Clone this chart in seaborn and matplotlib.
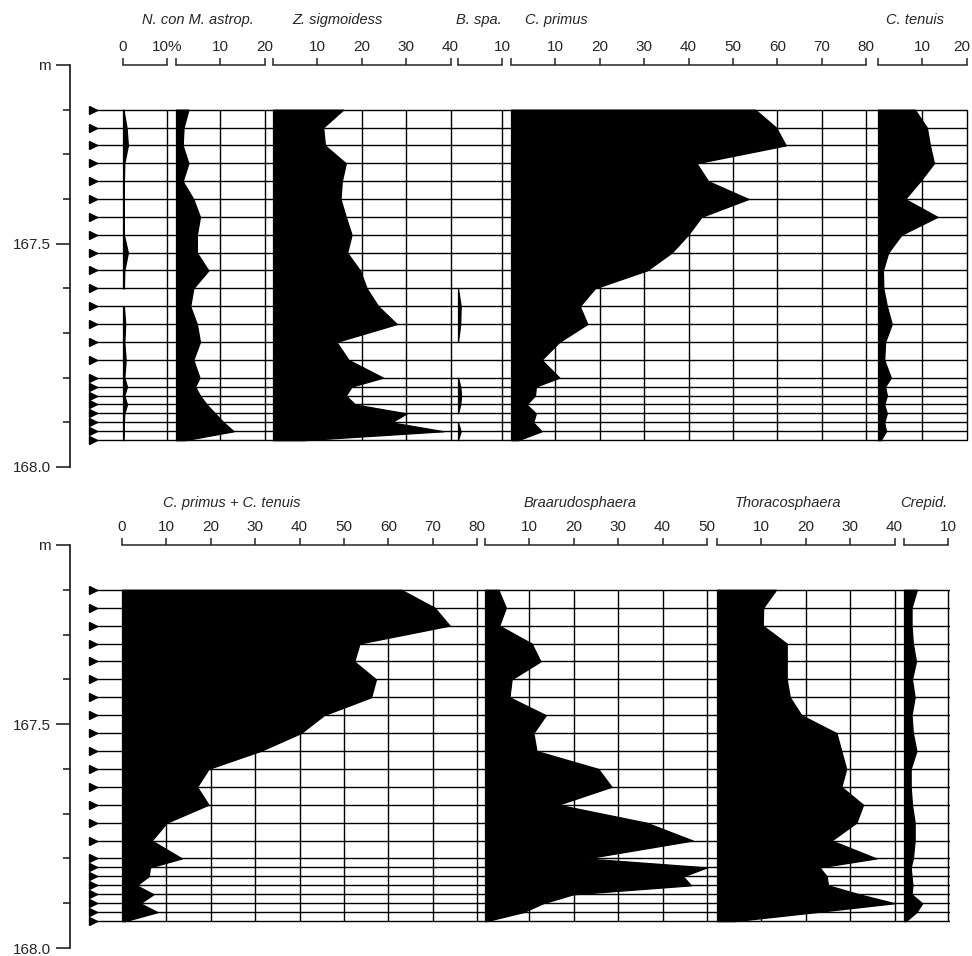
import numpy as np
import matplotlib
matplotlib.use("Agg")
import matplotlib.pyplot as plt
import matplotlib.transforms as mtransforms
import seaborn as sns

# ---------------- data ----------------
DEPTHS = [167.20, 167.24, 167.28, 167.32, 167.36, 167.40, 167.44, 167.48, 167.52, 167.56,
          167.60, 167.64, 167.68, 167.72, 167.76, 167.80, 167.82, 167.84, 167.86, 167.88,
          167.90, 167.92, 167.94]
NAN = np.nan

N_CON = [0.1, 0.8, 1.1, 0.3, 0.2, 0.2, 0.2, 0.2, 1.1, 0.3, 0.2,
         0.2, 0.5, 0.3, 0.6, 0.3, 0.9, 0.3, 0.9, 0.3, 0.2, 0.2, 0.1]
N_CON_BREAKS = [11]
M_ASTROP = [2.8, 1.7, 1.5, 2.8, 1.5, 3.9, 5.4, 4.7, 4.7, 7.3, 3.9, 3.2,
            4.7, 5.4, 3.9, 5.3, 4.3, 5.4, 6.9, 8.8, 10.7, 13.0, 2.0]
Z_SIGMOIDESS = [15.8, 11.3, 11.7, 16.4, 15.5, 15.2, 16.4, 17.7, 16.7, 19.6, 21.1, 23.7,
                27.9, 14.3, 17.0, 24.8, 17.7, 16.4, 18.5, 30.1, 26.7, 38.4, 6.8]
B_SPA = [NAN, NAN, NAN, NAN, NAN, NAN, NAN, NAN, NAN, NAN, 0.0, 0.6,
         0.5, 0.0, NAN, 0.0, 0.5, 0.7, 0.5, 0.0, 0.0, 0.6, 0.0]
B_SPA_BREAKS = [20]
C_PRIMUS = [55.0, 59.7, 61.9, 41.8, 44.4, 53.5, 42.9, 39.9, 36.2, 30.6, 18.9, 15.5,
            17.2, 10.9, 6.9, 10.9, 5.6, 5.4, 3.5, 5.6, 5.0, 6.9, 1.6]
C_TENUIS = [8.3, 11.0, 11.7, 12.6, 9.5, 6.1, 13.4, 5.3, 2.3, 1.1, 1.2, 2.0,
            3.1, 1.6, 1.4, 2.9, 1.6, 2.0, 1.4, 2.0, 1.4, 1.8, 0.6]

C_PRIMUS_TENUIS = [62.9, 70.4, 73.8, 53.5, 52.3, 57.2, 56.1, 45.5, 40.3, 31.2, 19.5, 16.9,
                   19.5, 10.1, 6.7, 13.5, 6.3, 6.0, 3.3, 7.1, 4.1, 8.0, 0.7]
BRAARUDOSPHAERA = [3.0, 4.7, 3.2, 10.5, 12.5, 6.0, 5.5, 13.7, 10.9, 11.6, 25.5, 28.5,
                   16.5, 36.3, 46.8, 22.8, 50.0, 44.6, 46.4, 19.9, 13.1, 8.6, 0.3]
THORACOSPHAERA = [13.3, 10.4, 10.3, 15.7, 15.7, 15.7, 16.4, 19.0, 26.9, 28.0, 29.1, 28.0,
                  32.9, 31.4, 25.8, 35.9, 23.1, 24.7, 25.0, 32.0, 40.0, 22.2, 4.0]
CREPID = [2.9, 1.7, 1.7, 2.0, 2.7, 1.8, 2.4, 1.7, 2.0, 2.8, 1.5, 1.5,
          1.8, 2.4, 2.4, 2.0, 1.5, 1.7, 1.9, 1.7, 4.1, 2.8, 0.4]

DEPTH_TICKS = [167.1, 167.5, 168.0]
DEPTH_LABELS = ["m", "167.5", "168.0"]
DEPTH_MINOR = [167.2, 167.3, 167.4, 167.6, 167.7, 167.8, 167.9]

# ---------------- layout ----------------
W, H = 972, 956
S = 4.44            # pixels per percent
AXIS_X = 70
ARROW_X = 93

sns.set_theme(style="white")
plt.rcParams["font.family"] = ["Liberation Sans", "DejaVu Sans"]
plt.rcParams["axes.linewidth"] = 1.1

fig = plt.figure(figsize=(W / 100, H / 100), dpi=100)
fig.patch.set_facecolor("white")


def runs(vals, breaks):
    out, cur = [], []
    for i, v in enumerate(vals):
        if np.isnan(v) or i in breaks:
            if cur:
                out.append(cur)
            cur = []
        if not np.isnan(v):
            cur.append(i)
    if cur:
        out.append(cur)
    return out


def row_axes(ytop, ybot, xright):
    ax = fig.add_axes([AXIS_X / W, 1 - ybot / H, (xright - AXIS_X) / W, (ybot - ytop) / H])
    ax.patch.set_alpha(0)
    ax.set_xlim(AXIS_X, xright)
    ax.set_ylim(168.0, 167.1)
    ax.hlines(DEPTHS, ARROW_X + 3, xright, color="black", lw=1.0, zorder=1)
    ax.plot([ARROW_X] * len(DEPTHS), DEPTHS, ls="none", marker=">", ms=6,
            color="black", clip_on=False)
    for s in ["top", "right", "bottom"]:
        ax.spines[s].set_visible(False)
    ax.spines["left"].set_bounds(167.1, 168.0)
    ax.spines["left"].set_linewidth(1.3)
    ax.set_xticks([])
    ax.set_yticks(DEPTH_TICKS)
    ax.set_yticklabels(DEPTH_LABELS)
    ax.set_yticks(DEPTH_MINOR, minor=True)
    ax.tick_params(axis="y", which="major", direction="out", length=10, width=1.2,
                   labelsize=11, pad=4, left=True)
    ax.tick_params(axis="y", which="minor", direction="out", length=5, width=1.2, left=True)
    return ax


def column(ytop, ybot, x0, vmax, vals, labels, breaks=()):
    ax = fig.add_axes([x0 / W, 1 - ybot / H, vmax * S / W, (ybot - ytop) / H])
    ax.patch.set_alpha(0)
    ax.set_xlim(0, vmax)
    ax.set_ylim(168.0, 167.1)
    grid = np.arange(10, vmax + 1, 10)
    ax.vlines(grid, DEPTHS[0], DEPTHS[-1], color="black", lw=1.0, zorder=1, clip_on=False)
    d = np.array(DEPTHS)
    v = np.array(vals, dtype=float)
    for r in runs(vals, breaks):
        ax.fill_betweenx(d[r], 0, v[r], facecolor="black", edgecolor="black",
                         lw=0.9, zorder=2, clip_on=False)
    for s in ["left", "right", "bottom"]:
        ax.spines[s].set_visible(False)
    ax.spines["top"].set_bounds(0, vmax)
    ax.spines["top"].set_linewidth(1.1)
    ax.xaxis.tick_top()
    ax.set_xticks(np.arange(0, vmax + 1, 10))
    ax.set_xticklabels(labels)
    ax.set_yticks([])
    ax.tick_params(axis="x", direction="out", length=5, width=1.1, pad=3,
                   labelsize=11, top=True, bottom=False)
    return ax


# ---- top row ----
T_TOP, T_BOT = 65, 467
row_axes(T_TOP, T_BOT, 968)
column(T_TOP, T_BOT, 123, 10, N_CON, ["0", "10%"], N_CON_BREAKS)
column(T_TOP, T_BOT, 176, 20, M_ASTROP, ["", "10", "20"])
column(T_TOP, T_BOT, 273, 40, Z_SIGMOIDESS, ["", "10", "20", "30", "40"])
column(T_TOP, T_BOT, 458, 10, B_SPA, ["", "10"], B_SPA_BREAKS)
column(T_TOP, T_BOT, 511, 80, C_PRIMUS, [""] + [str(v) for v in range(10, 81, 10)])
ax_ct = column(T_TOP, T_BOT, 878, 20, C_TENUIS, ["", "10", "20"])
# keep the last label inside the picture
last = ax_ct.get_xticklabels()[-1]
last.set_transform(last.get_transform() +
                   mtransforms.ScaledTranslation(-5 / 100, 0, fig.dpi_scale_trans))

# ---- bottom row ----
B_TOP, B_BOT = 545, 948
row_axes(B_TOP, B_BOT, 950)
column(B_TOP, B_BOT, 122, 80, C_PRIMUS_TENUIS, [str(v) for v in range(0, 81, 10)])
column(B_TOP, B_BOT, 485, 50, BRAARUDOSPHAERA, [""] + [str(v) for v in range(10, 51, 10)])
column(B_TOP, B_BOT, 717, 40, THORACOSPHAERA, ["", "10", "20", "30", "40"])
column(B_TOP, B_BOT, 904, 10, CREPID, ["", "10"])

# ---- titles ----
TITLES = [("N. con M. astrop.", 198, 20), ("Z. sigmoidess", 337, 20), ("B. spa.", 479, 20),
          ("C. primus", 556, 20), ("C. tenuis", 915, 20),
          ("C. primus + C. tenuis", 232, 503), ("Braarudosphaera", 580, 503),
          ("Thoracosphaera", 788, 503), ("Crepid.", 924, 503)]
for txt, x, y in TITLES:
    fig.text(x / W, 1 - y / H, txt, ha="center", va="center", style="italic", fontsize=10.5)

fig.savefig("out.png", dpi=100, facecolor="white")
